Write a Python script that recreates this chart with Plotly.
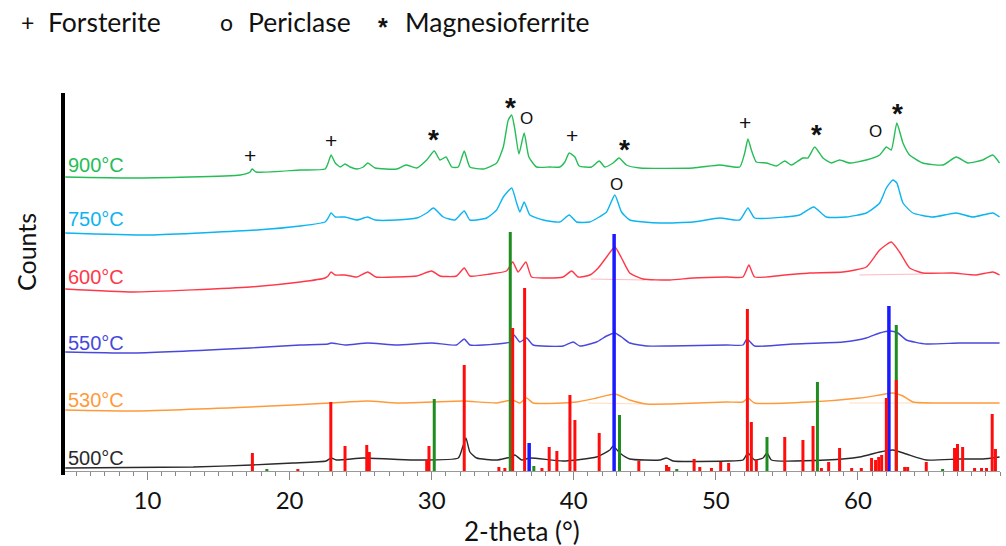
import plotly.graph_objects as go

# ---------------- data (2-theta in degrees, intensity in arbitrary counts) ----------------
t900_x = [4.21, 8.99, 16.52, 17.22, 17.36, 17.64, 20.75, 22.50, 22.71, 22.92, 23.21, 23.56, 23.90, 24.26,
          24.73, 25.19, 25.50, 26.02, 27.54, 28.19, 28.95, 29.65, 30.18, 30.58, 31.01, 31.41, 31.87, 32.29,
          32.69, 33.63, 34.57, 35.04, 35.39, 35.63, 35.86, 36.14, 36.51, 36.84, 37.38, 38.32, 39.02, 39.37,
          39.68, 40.08, 40.38, 41.25, 41.79, 42.19, 42.77, 43.19, 43.71, 44.65, 48.40, 50.27, 51.68, 52.03,
          52.26, 52.50, 52.85, 53.56, 54.26, 54.85, 55.32, 56.13, 56.48, 56.96, 57.54, 58.13, 58.71, 59.42,
          60.59, 61.53, 62.00, 62.35, 62.74, 63.17, 63.64, 64.57, 65.98, 66.92, 67.74, 68.79, 69.49, 69.97]
t900_y = [294, 293, 296, 299, 302, 299, 301, 302, 308, 316, 308, 304, 307, 304,
          302, 304, 308, 303, 302, 306, 303, 311, 320, 311, 314, 304, 304, 320,
          304, 302, 308, 324, 351, 356, 341, 317, 338, 314, 304, 304, 304, 309,
          318, 314, 305, 304, 310, 304, 308, 313, 306, 303, 303, 306, 304, 318,
          332, 321, 309, 308, 305, 310, 306, 313, 313, 324, 313, 308, 311, 308,
          311, 316, 324, 321, 348, 328, 316, 308, 306, 314, 308, 311, 316, 308]

t750_x = [4.21, 10.19, 17.71, 20.75, 22.50, 22.71, 22.92, 23.21, 23.90, 24.73, 25.50, 26.02, 27.54, 28.95,
          29.65, 30.12, 30.82, 31.64, 32.29, 32.69, 33.87, 34.57, 35.04, 35.63, 35.98, 36.21, 36.51, 36.91,
          37.85, 39.02, 39.68, 40.20, 41.13, 41.79, 42.31, 42.89, 43.36, 43.94, 46.05, 48.40, 50.27, 51.68,
          52.26, 52.73, 54.85, 55.90, 56.88, 57.78, 59.18, 60.59, 61.53, 62.00, 62.46, 62.74, 63.17, 63.87,
          65.27, 66.92, 68.09, 69.49, 69.97]
t750_y = [238, 236, 241, 245, 249, 253, 258, 254, 254, 251, 254, 251, 251, 253,
          258, 263, 254, 251, 260, 251, 253, 261, 274, 283, 268, 259, 269, 256,
          251, 249, 256, 249, 249, 254, 259, 276, 259, 251, 248, 249, 253, 251,
          263, 253, 254, 256, 264, 254, 254, 258, 268, 283, 291, 288, 268, 258,
          254, 258, 254, 258, 254]

t600_x = [4.21, 8.99, 17.22, 20.75, 22.50, 22.71, 22.92, 23.21, 23.90, 24.73, 25.50, 26.08, 27.54, 28.95,
          30.00, 30.58, 31.75, 32.29, 32.69, 34.10, 35.27, 35.70, 36.09, 36.63, 37.03, 38.09, 39.25, 39.85,
          40.31, 41.13, 41.72, 42.31, 42.89, 43.36, 43.94, 44.88, 46.76, 48.40, 50.75, 51.91, 52.33, 52.73,
          54.85, 56.60, 58.95, 60.59, 61.53, 62.35, 62.93, 63.64, 64.57, 66.68, 68.33, 69.49, 69.97]
t600_y = [182, 179, 184, 189, 193, 195, 199, 196, 196, 194, 199, 194, 194, 195,
          200, 195, 195, 203, 195, 197, 200, 209, 199, 209, 194, 193, 194, 200,
          194, 196, 203, 214, 224, 213, 198, 192, 191, 193, 194, 194, 206, 194,
          196, 198, 199, 204, 221, 229, 219, 203, 198, 198, 196, 199, 196]

t550_x = [4.21, 8.99, 17.22, 20.75, 22.71, 22.92, 23.90, 25.50, 27.54, 30.00, 31.75, 32.29, 32.69, 34.57,
          35.51, 35.79, 36.21, 36.68, 37.14, 39.25, 39.96, 40.43, 41.60, 42.31, 42.89, 43.36, 43.94, 45.12,
          46.76, 50.75, 51.91, 52.19, 52.73, 55.43, 58.95, 60.59, 61.53, 62.23, 62.81, 63.41, 64.81, 67.15,
          69.97]
t550_y = [119, 118, 123, 126, 127, 128, 126, 128, 126, 128, 126, 132, 126, 127,
          129, 136, 129, 133, 126, 125, 129, 125, 129, 135, 138, 134, 128, 125,
          125, 126, 126, 132, 125, 127, 129, 133, 138, 140, 138, 131, 127, 128,
          128]

t530_x = [4.21, 8.99, 17.22, 20.24, 22.85, 25.50, 27.54, 30.00, 32.22, 34.57, 35.70, 36.21, 36.68, 37.14,
          39.25, 40.20, 41.60, 42.89, 43.94, 45.12, 46.76, 50.75, 51.91, 52.26, 52.73, 56.60, 60.12, 61.53,
          62.46, 63.17, 63.87, 67.15, 69.97]
t530_y = [61, 60, 64, 66, 68, 70, 68, 69, 70, 68, 71, 68, 73, 68,
          68, 69, 73, 77, 71, 67, 67, 69, 69, 73, 68, 69, 73, 76,
          78, 75, 69, 68, 68]

t500_x = [4.21, 13.22, 17.36, 20.24, 22.57, 22.92, 23.28, 25.19, 28.71, 31.87, 32.18, 32.41, 32.69, 33.16,
          34.57, 35.27, 35.63, 35.86, 36.33, 36.91, 39.25, 41.60, 42.54, 42.77, 43.24, 43.94, 46.05, 46.53,
          46.99, 50.75, 51.91, 52.26, 52.73, 53.32, 53.60, 53.91, 57.78, 60.12, 61.53, 62.46, 63.41, 64.81,
          67.15, 68.79, 69.97]
t500_y = [3, 4, 6, 8, 10, 13, 11, 13, 11, 13, 24, 33, 19, 13,
          11, 13, 14, 16, 11, 13, 10, 14, 21, 25, 18, 12, 11, 13,
          10, 10, 11, 18, 11, 13, 18, 11, 11, 14, 19, 21, 17, 11,
          12, 12, 14]

# faint fitted background lines under the broad peaks
bg600_x = [41.2, 45.0]
bg600_y = [192, 191]
bg600b_x = [60.1, 64.6]
bg600b_y = [196, 197]
bg530_x = [41.0, 45.1]
bg530_y = [68, 67]
bg530b_x = [59.4, 64.5]
bg530b_y = [68, 68]

# reference stick patterns
forsterite_pos = [17.38, 20.58, 22.90, 23.90, 25.43, 25.61, 29.65, 29.81, 32.29, 34.73, 35.15, 35.70,
                  36.54, 37.76, 38.27, 38.81, 39.73, 40.08, 41.79, 44.58, 46.53, 46.69, 48.47, 48.87,
                  49.69, 50.34, 50.90, 52.22, 52.50, 52.85, 54.85, 56.13, 56.84, 57.43, 57.94, 58.71,
                  59.56, 60.24, 60.96, 61.24, 61.46, 61.67, 62.00, 62.70, 63.29, 63.50, 64.81, 66.80,
                  67.01, 67.37, 68.21, 68.70, 69.05, 69.45, 69.68]
forsterite_int = [18, 2, 69, 25, 26, 19, 11, 25, 106, 4, 3, 143,
                  183, 3, 24, 20, 76, 51, 38, 10, 6, 4, 12, 4,
                  3, 9, 8, 162, 49, 11, 34, 31, 45, 3, 9, 23,
                  3, 3, 13, 11, 14, 16, 73, 91, 4, 4, 9, 23,
                  27, 24, 3, 3, 3, 57, 22]
magnesioferrite_pos = [18.40, 30.18, 35.53, 37.19, 43.22, 47.25, 53.60, 57.15, 62.70, 65.96]
magnesioferrite_int = [2, 72, 239, 5, 56, 2, 34, 89, 146, 2]
periclase_pos = [36.86, 42.84, 62.18]
periclase_int = [28, 237, 165]

series_names = ["900°C", "750°C", "600°C", "550°C", "530°C", "500°C"]
x_ticks = [10, 20, 30, 40, 50, 60]

# phase markers above the 900 °C pattern: (2-theta, height)
forsterite_marks = [(17.24, 316), (22.92, 331), (39.86, 336), (52.03, 349)]
magnesioferrite_marks = [(30.11, 338), (35.52, 370), (43.60, 328), (57.09, 343), (62.79, 364)]
periclase_marks = [(36.70, 353), (43.03, 287), (61.24, 340)]

# ---------------- figure ----------------
L, R, T, B = 63, 1000, 93, 471
W, H = 1006, 546


def px(x):
    return (x - L) / (R - L)


def py(y):
    return (B - y) / (B - T)


colors = ["#25bd55", "#0cb4f0", "#ff3848", "#4848dc", "#ff9a3a", "#2a2a2a"]
curves = [(t900_x, t900_y), (t750_x, t750_y), (t600_x, t600_y),
          (t550_x, t550_y), (t530_x, t530_y), (t500_x, t500_y)]

fig = go.Figure()

for (bx, by, c) in [(bg600_x, bg600_y, "rgba(255,56,72,0.35)"), (bg600b_x, bg600b_y, "rgba(255,56,72,0.35)"),
                    (bg530_x, bg530_y, "rgba(255,154,58,0.35)"), (bg530b_x, bg530b_y, "rgba(255,154,58,0.35)")]:
    fig.add_trace(go.Scatter(x=bx, y=by, mode="lines", line=dict(color=c, width=1),
                             showlegend=False, hoverinfo="skip"))

for (cx, cy), c, name in zip(curves, colors, series_names):
    fig.add_trace(go.Scatter(x=cx, y=cy, mode="lines", name=name,
                             line=dict(color=c, width=1.4, shape="spline", smoothing=0.5),
                             showlegend=False))


def sticks(pos, inten):
    xs, ys = [], []
    for p, h in zip(pos, inten):
        xs += [p, p, None]
        ys += [0, h, None]
    return xs, ys


for pos, inten, c, w, name in [
    (magnesioferrite_pos, magnesioferrite_int, "#1e8c1e", 3, "Magnesioferrite"),
    (periclase_pos, periclase_int, "#1a1aff", 3.5, "Periclase"),
    (forsterite_pos, forsterite_int, "#ff0d0d", 3, "Forsterite"),
]:
    sx, sy = sticks(pos, inten)
    fig.add_trace(go.Scatter(x=sx, y=sy, mode="lines", name=name,
                             line=dict(color=c, width=w), showlegend=False))

ann = []
# temperature labels
label_y = [165, 219, 277, 342.5, 399.5, 458]
for name, c, yy in zip(series_names, colors, label_y):
    ann.append(dict(xref="paper", yref="paper", x=px(66), y=py(yy), text=name, showarrow=False,
                    xanchor="left", yanchor="middle",
                    font=dict(family="Liberation Sans, Arial", size=20, color=c)))

mark_font = dict(family="Liberation Sans, Arial", color="#111")
for (mx, my) in forsterite_marks:
    ann.append(dict(x=mx, y=my, text="+", showarrow=False, xanchor="center", yanchor="middle",
                    font=dict(size=21, **mark_font)))
for (mx, my) in magnesioferrite_marks:
    ann.append(dict(x=mx, y=my, text="<b>*</b>", showarrow=False, xanchor="center", yanchor="middle",
                    yshift=-6, font=dict(size=28, **mark_font)))
for (mx, my) in periclase_marks:
    ann.append(dict(x=mx, y=my, text="O", showarrow=False, xanchor="center", yanchor="middle",
                    font=dict(size=17, **mark_font)))

# legend row at the top
leg_font = dict(family="Lato, Carlito, sans-serif", size=26.5, color="#111")
ly = py(22)
ann += [
    dict(xref="paper", yref="paper", x=px(27.5), y=ly, text="+", showarrow=False, xanchor="center",
         yanchor="middle", font=dict(family="Lato, sans-serif", size=23, color="#111")),
    dict(xref="paper", yref="paper", x=px(46), y=ly, text="Forsterite", showarrow=False, xanchor="left",
         yanchor="middle", font=leg_font),
    dict(xref="paper", yref="paper", x=px(226), y=ly, text="o", showarrow=False, xanchor="center",
         yanchor="middle", font=dict(family="Lato, sans-serif", size=23, color="#111")),
    dict(xref="paper", yref="paper", x=px(246), y=ly, text="Periclase", showarrow=False, xanchor="left",
         yanchor="middle", font=leg_font),
    dict(xref="paper", yref="paper", x=px(383), y=ly, text="<b>*</b>", showarrow=False, xanchor="center",
         yanchor="middle", yshift=-5, font=dict(family="Liberation Sans, Arial", size=25, color="#111")),
    dict(xref="paper", yref="paper", x=px(403), y=ly, text="Magnesioferrite", showarrow=False,
         xanchor="left", yanchor="middle", font=leg_font),
]

# axis titles
ann.append(dict(xref="paper", yref="paper", x=px(522), y=py(531), text="2-theta (°)", showarrow=False,
                xanchor="center", yanchor="middle", font=dict(family="Lato, sans-serif", size=26, color="#111")))
ann.append(dict(xref="paper", yref="paper", x=px(26), y=py(252), text="Counts", showarrow=False,
                textangle=-90, xanchor="center", yanchor="middle",
                font=dict(family="Lato, sans-serif", size=25, color="#111")))

fig.update_layout(
    width=W, height=H, autosize=False,
    margin=dict(l=L, r=W - R, t=T, b=H - B),
    paper_bgcolor="white", plot_bgcolor="white",
    annotations=ann,
    shapes=[dict(type="line", xref="paper", yref="paper", x0=0, x1=0, y0=-4 / (B - T), y1=1,
                 line=dict(color="black", width=4))],
    xaxis=dict(range=[4.05, 70.0], tickvals=x_ticks, ticks="outside", ticklen=8, tickcolor="#888",
               tickwidth=1, showline=True, linecolor="#999", linewidth=1, showgrid=False, zeroline=False,
               tickfont=dict(family="Lato, sans-serif", size=24, color="#111"),
               minor=dict(dtick=1, tick0=0, ticks="outside", ticklen=4, tickcolor="#888", showgrid=False)),
    yaxis=dict(range=[0, B - T], showticklabels=False, ticks="", showgrid=False, zeroline=False,
               showline=False),
)

# remove the page's default 8px body margin so the figure sits at the window's top-left corner
fig.write_html("out.html", config={"displayModeBar": False},
               post_script="document.body.style.margin='0';document.body.style.overflow='hidden';")
